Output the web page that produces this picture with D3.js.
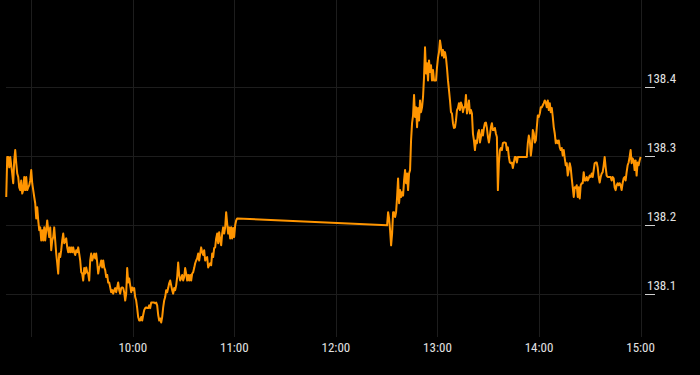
<!DOCTYPE html>
<html>
<head>
<meta charset="utf-8">
<script src="https://cdn.jsdelivr.net/npm/d3@7"></script>
<style>
  html, body { margin: 0; padding: 0; background: #000; }
  svg { display: block; }
</style>
</head>
<body>
<svg id="chart" width="700" height="375"></svg>
<script>
// sessions (first and last quote of each block)
const amStart = "08:45:15", amEnd = "11:01:40";
const pmStart = "12:30:15", pmEnd = "15:00:00";

// prices, morning block
const amValues = [
  138.241,138.299,138.299,138.284,138.299,138.287,138.275,138.261,138.294,138.309,
  138.290,138.275,138.270,138.255,138.251,138.265,138.246,138.251,138.270,138.251,
  138.270,138.251,138.255,138.258,138.265,138.280,138.261,138.251,138.241,138.232,
  138.210,138.226,138.207,138.193,138.197,138.178,138.193,138.178,138.197,138.178,
  138.193,138.207,138.193,138.183,138.197,138.164,138.178,138.183,138.197,138.178,
  138.159,138.145,138.130,138.159,138.154,138.164,138.178,138.188,138.174,138.178,
  138.181,138.168,138.161,138.168,138.161,138.168,138.161,138.168,138.161,138.157,
  138.164,138.161,138.168,138.159,138.149,138.132,138.130,138.120,138.138,138.130,
  138.139,138.132,138.130,138.120,138.149,138.159,138.149,138.154,138.159,138.152,
  138.159,138.146,138.130,138.139,138.142,138.149,138.139,138.149,138.139,138.135,
  138.125,138.128,138.117,138.117,138.110,138.103,138.106,138.101,138.106,138.109,
  138.103,138.110,138.117,138.106,138.101,138.109,138.110,138.109,138.103,138.091,
  138.101,138.138,138.117,138.123,138.113,138.103,138.110,138.106,138.109,138.096,
  138.091,138.080,138.067,138.062,138.062,138.067,138.062,138.070,138.077,138.080,
  138.081,138.080,138.080,138.084,138.080,138.088,138.088,138.088,138.088,138.087,
  138.088,138.084,138.070,138.062,138.065,138.059,138.067,138.081,138.091,138.096,
  138.106,138.103,138.109,138.116,138.120,138.113,138.106,138.101,138.109,138.106,
  138.113,138.125,138.146,138.128,138.120,138.123,138.128,138.120,138.125,138.138,
  138.130,138.120,138.128,138.120,138.128,138.120,138.130,138.132,138.138,138.145,
  138.149,138.152,138.159,138.149,138.159,138.168,138.161,138.157,138.164,138.149,
  138.152,138.154,138.139,138.142,138.145,138.142,138.159,138.154,138.167,138.168,
  138.181,138.188,138.174,138.190,138.178,138.171,138.188,138.197,138.188,138.197,
  138.219,138.203,138.188,138.197,138.181,138.197,138.181,138.196,138.183,138.200,
  138.207,138.210
];

// prices, afternoon block
const pmValues = [
  138.200,138.219,138.210,138.193,138.171,138.188,138.219,138.219,138.212,138.219,
  138.241,138.268,138.232,138.251,138.241,138.248,138.243,138.265,138.280,138.261,
  138.275,138.251,138.275,138.280,138.323,138.348,138.359,138.389,138.357,138.371,
  138.342,138.370,138.352,138.381,138.364,138.371,138.386,138.415,138.458,138.420,
  138.435,138.410,138.439,138.422,138.432,138.410,138.425,138.410,138.410,138.410,
  138.429,138.443,138.451,138.468,138.458,138.446,138.454,138.443,138.451,138.443,
  138.428,138.410,138.396,138.381,138.364,138.362,138.348,138.341,138.342,138.352,
  138.367,138.370,138.377,138.367,138.378,138.374,138.364,138.371,138.371,138.389,
  138.362,138.370,138.381,138.362,138.367,138.362,138.333,138.323,138.309,138.323,
  138.319,138.333,138.338,138.320,138.328,138.338,138.330,138.341,138.348,138.349,
  138.341,138.328,138.320,138.330,138.342,138.348,138.338,138.338,138.341,138.333,
  138.328,138.251,138.290,138.309,138.312,138.309,138.319,138.320,138.320,138.319,
  138.309,138.313,138.299,138.291,138.290,138.291,138.283,138.291,138.299,138.299,
  138.291,138.299,138.299,138.299,138.299,138.299,138.299,138.299,138.299,138.299,
  138.299,138.319,138.330,138.323,138.301,138.313,138.338,138.333,138.320,138.323,
  138.342,138.359,138.357,138.362,138.371,138.371,138.374,138.377,138.381,138.378,
  138.371,138.381,138.367,138.377,138.364,138.370,138.357,138.342,138.333,138.319,
  138.323,138.319,138.323,138.313,138.309,138.312,138.301,138.309,138.297,138.287,
  138.290,138.272,138.280,138.290,138.283,138.268,138.255,138.241,138.255,138.254,
  138.258,138.241,138.255,138.239,138.258,138.261,138.261,138.277,138.265,138.265,
  138.270,138.265,138.268,138.272,138.270,138.275,138.270,138.280,138.290,138.291,
  138.291,138.284,138.270,138.262,138.270,138.275,138.277,138.287,138.299,138.284,
  138.272,138.270,138.270,138.270,138.270,138.265,138.270,138.268,138.255,138.251,
  138.258,138.261,138.258,138.261,138.258,138.251,138.261,138.268,138.270,138.265,
  138.277,138.287,138.291,138.299,138.309,138.290,138.297,138.294,138.280,138.294,
  138.272,138.291,138.287,138.294,138.299
];

const xTicks = ["09:00","10:00","11:00","12:00","13:00","14:00","15:00"];
const yTicks = [138.1, 138.2, 138.3, 138.4];

const parseT = d3.timeParse("%H:%M:%S");
const parseHM = d3.timeParse("%H:%M");

// spread each block's quotes across its session
function block(start, end, values) {
    const t = d3.scaleLinear()
        .domain([0, values.length - 1])
        .range([parseT(start).getTime(), parseT(end).getTime()]);
    return values.map((v, i) => ({date: new Date(t(i)), value: v}));
}
const data = block(amStart, amEnd, amValues).concat(block(pmStart, pmEnd, pmValues));

const svg = d3.select('#chart');
const width = +svg.attr('width');
const height = +svg.attr('height');

const xScale = d3.scaleTime()
    .domain([parseHM("09:00"), parseHM("15:00")])
    .range([31.2, 640.6]);

const yScale = d3.scaleLinear()
    .domain([138.1, 138.4])
    .range([294.3, 87.3]);

const gridColor = '#1d1d1d';
const textColor = '#e2e2e2';
const fontFam = '"Liberation Sans Narrow", "Roboto Condensed", "DejaVu Sans Condensed", sans-serif';

//Vertical grid
svg.append('g').selectAll('line').data(xTicks).enter().append('line')
    .attr('x1', d => Math.round(xScale(parseHM(d))) + 0.5)
    .attr('x2', d => Math.round(xScale(parseHM(d))) + 0.5)
    .attr('y1', 0)
    .attr('y2', 337)
    .style('stroke', gridColor)
    .style('stroke-width', 1);

//Horizontal grid
svg.append('g').selectAll('line').data(yTicks).enter().append('line')
    .attr('x1', 6)
    .attr('x2', 642)
    .attr('y1', d => Math.round(yScale(d)) + 0.5)
    .attr('y2', d => Math.round(yScale(d)) + 0.5)
    .style('stroke', gridColor)
    .style('stroke-width', 1);

//Price line
const line = d3.line()
    .x(d => xScale(d.date))
    .y(d => yScale(d.value));

svg.append('path')
    .datum(data)
    .attr('d', line)
    .style('fill', 'none')
    .style('stroke', '#ff9500')
    .style('stroke-width', 2)
    .style('stroke-linejoin', 'round');

//Right axis: small marks under the labels
const ra = svg.append('g');
ra.selectAll('line').data(yTicks).enter().append('line')
    .attr('x1', 645)
    .attr('x2', 655)
    .attr('y1', d => Math.round(yScale(d)) + 0.5)
    .attr('y2', d => Math.round(yScale(d)) + 0.5)
    .style('stroke', '#cfcfcf')
    .style('stroke-width', 1);
ra.selectAll('text').data(yTicks).enter().append('text')
    .attr('x', 647)
    .attr('y', d => yScale(d) - 4)
    .text(d => d.toFixed(1))
    .style('font-family', fontFam)
    .style('font-size', '13px')
    .style('fill', textColor);

//Bottom axis labels (09:00 has no label in the original)
svg.append('g').selectAll('text').data(xTicks.slice(1)).enter().append('text')
    .attr('x', d => xScale(parseHM(d)))
    .attr('y', 352)
    .attr('text-anchor', 'middle')
    .text(d => d)
    .style('font-family', fontFam)
    .style('font-size', '13px')
    .style('fill', textColor);
</script>
</body>
</html>
